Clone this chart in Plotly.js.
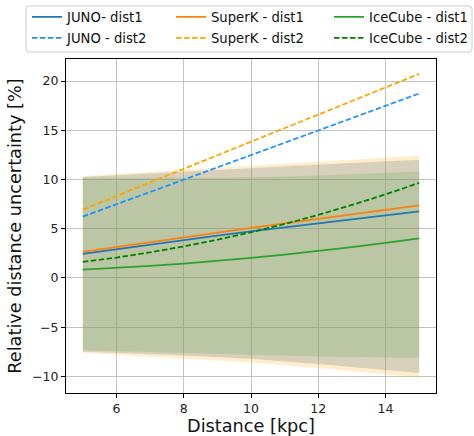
<!DOCTYPE html>
<html><head><meta charset="utf-8">
<script src="https://cdn.plot.ly/plotly-3.0.1.min.js"></script>
<style>body{margin:0;background:#fff}</style></head>
<body><div id="chart" style="width:474px;height:436px"></div>
<script>
// ---- data ----
const distance = [5, 6, 7, 8, 9, 10, 11, 12, 13, 14, 15];
const junoDist1    = [2.44, 2.92, 3.39, 3.85, 4.30, 4.74, 5.16, 5.57, 5.98, 6.38, 6.77];
const superkDist1  = [2.64, 3.14, 3.63, 4.12, 4.60, 5.08, 5.55, 6.02, 6.48, 6.93, 7.38];
const icecubeDist1 = [0.84, 1.01, 1.22, 1.46, 1.73, 2.03, 2.36, 2.73, 3.13, 3.56, 4.02];
const junoDist2    = [6.23, 7.48, 8.73, 9.98, 11.23, 12.48, 13.73, 14.98, 16.23, 17.48, 18.73];
const superkDist2  = [6.94, 8.32, 9.70, 11.08, 12.46, 13.84, 15.22, 16.60, 17.98, 19.36, 20.73];
const icecubeDist2 = [1.63, 2.07, 2.60, 3.20, 3.88, 4.64, 5.48, 6.40, 7.41, 8.49, 9.65];

const bandX      = [5, 7.5, 10, 12.5, 15];
const bandAUpper = [10.35, 10.9, 11.4, 11.9, 12.4];
const bandALower = [-7.6, -8.1, -8.6, -9.3, -10.15];
const bandBUpper = [10.25, 10.7, 11.2, 11.6, 12.0];
const bandBLower = [-7.5, -7.8, -8.2, -8.9, -9.65];
const bandCUpper = [10.15, 10.15, 10.2, 10.45, 10.8];
const bandCLower = [-7.35, -7.6, -7.8, -8.0, -8.1];

const seriesNames = ["JUNO- dist1", "SuperK - dist1", "IceCube - dist1",
                     "JUNO - dist2", "SuperK - dist2", "IceCube - dist2"];

// ---- geometry helpers ----
const W = 474, H = 436;
const M = {l: 66, r: 38, t: 59, b: 43, autoexpand: false};
const PW = W - M.l - M.r, PH = H - M.t - M.b;
const px2x = p => (p - M.l) / PW;
const px2y = p => (H - M.b - p) / PH;

function band(upper, lower, color) {
  return {
    x: bandX.concat(bandX.slice().reverse()),
    y: upper.concat(lower.slice().reverse()),
    type: "scatter", mode: "lines", fill: "toself",
    fillcolor: color, line: {width: 0}, hoverinfo: "skip", showlegend: false
  };
}

const dashPat = "5.5px,2.5px";
const lineDefs = [
  {y: junoDist1,    color: "#1f77b4", dash: "solid"},
  {y: superkDist1,  color: "#ff7f0e", dash: "solid"},
  {y: icecubeDist1, color: "#2ca02c", dash: "solid"},
  {y: junoDist2,    color: "#1e90ff", dash: dashPat},
  {y: superkDist2,  color: "#ffa500", dash: dashPat},
  {y: icecubeDist2, color: "#008000", dash: dashPat}
];

const traces = [
  band(bandAUpper, bandALower, "rgba(255,165,0,0.2)"),
  band(bandBUpper, bandBLower, "rgba(95,129,140,0.25)"),
  band(bandCUpper, bandCLower, "rgba(122,173,111,0.3)")
];

const colPx = [27, 171, 329];
const rowPx = [17.3, 38.3];
const axisCommon = {
  showgrid: true, gridcolor: "#c4c4c4", gridwidth: 1,
  ticks: "outside", ticklen: 4, tickwidth: 1, tickcolor: "#000",
  showline: true, linecolor: "#000", linewidth: 1, mirror: true,
  zeroline: false, automargin: false, tickfont: {size: 12.5, color: "#222"}
};
const layout = {
  width: W, height: H, margin: M,
  paper_bgcolor: "#fff", plot_bgcolor: "#fff",
  font: {family: "DejaVu Sans", size: 12, color: "#000"},
  showlegend: true,
  xaxis: Object.assign({}, axisCommon, {
    range: [4.5, 15.5], tick0: 0, dtick: 2,
    title: {text: "Distance [kpc]", font: {size: 17.7, color: "#111"}}
  }),
  yaxis: Object.assign({}, axisCommon, {
    range: [-11.69, 22.24], tick0: 0, dtick: 5,
    title: {text: "Relative distance uncertainty [%]", font: {size: 17.7, color: "#111"}}
  }),
  shapes: [{
    type: "path", xref: "paper", yref: "paper",
    path: (() => {
      const x0 = 26, x1 = 472, y0 = 6, y1 = 52, r = 3;
      const pts = [
        ["M", x0 + r, y0], ["L", x1 - r, y0], ["Q", x1, y0, x1, y0 + r],
        ["L", x1, y1 - r], ["Q", x1, y1, x1 - r, y1], ["L", x0 + r, y1],
        ["Q", x0, y1, x0, y1 - r], ["L", x0, y0 + r], ["Q", x0, y0, x0 + r, y0]
      ];
      return pts.map(p => p[0] + p.slice(1).map((v, i) => (i % 2 === 0 ? px2x(v) : px2y(v)).toFixed(5)).join(",")).join(" ") + " Z";
    })(),
    line: {color: "#cccccc", width: 1}, fillcolor: "rgba(255,255,255,0.8)", layer: "above"
  }]
};

lineDefs.forEach((d, i) => {
  const key = i === 0 ? "legend" : "legend" + (i + 1);
  const col = i % 3, row = Math.floor(i / 3);
  traces.push({
    x: distance, y: d.y, type: "scatter", mode: "lines", name: seriesNames[i],
    line: {color: d.color, width: 1.8, dash: d.dash}, legend: key
  });
  layout[key] = {
    x: px2x(colPx[col]), y: px2y(rowPx[row]), xanchor: "left", yanchor: "middle",
    bgcolor: "rgba(0,0,0,0)", borderwidth: 0, font: {size: 13.2, color: "#111"},
    orientation: "v"
  };
});

Plotly.newPlot("chart", traces, layout, {displayModeBar: false, staticPlot: true});
</script></body></html>
